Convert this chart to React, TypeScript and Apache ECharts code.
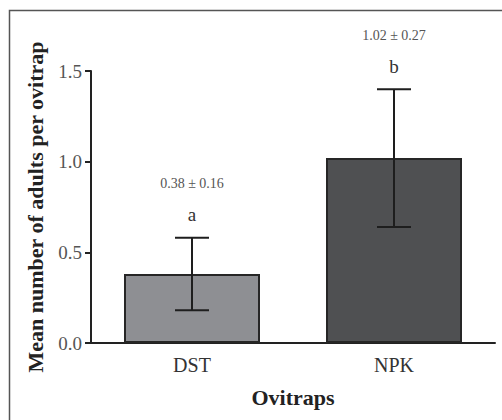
import React, { useEffect, useRef } from "react";
import * as echarts from "echarts";

const categories = ["DST", "NPK"];
const means = [0.38, 1.02];
const errLow = [0.18, 0.64];
const errHigh = [0.58, 1.4];
const meanLabels = ["0.38 ± 0.16", "1.02 ± 0.27"];
const letters = ["a", "b"];
const barColors = ["#8e8f93", "#4f5052"];
const yTicks = [0, 0.5, 1.0, 1.5];

const SERIF = "'Liberation Serif', 'DejaVu Serif', serif";

export default function App() {
  const ref = useRef<HTMLDivElement>(null);
  useEffect(() => {
    document.body.style.margin = "0";
    const chart = echarts.init(ref.current!, null, { renderer: "svg" });
    const errData = categories.map((_, i) => [i, errLow[i], errHigh[i]]);
    chart.setOption({
      animation: false,
      backgroundColor: "#ffffff",
      graphic: [
        {
          type: "rect",
          shape: { x: 9.5, y: 10.5, width: 700, height: 600 },
          style: { fill: "none", stroke: "#555", lineWidth: 1.5 },
          silent: true,
        },
      ],
      grid: { left: 91, top: 71, right: 7, bottom: 77 },
      xAxis: {
        type: "category",
        data: categories,
        name: "Ovitraps",
        nameLocation: "middle",
        nameGap: 43,
        nameTextStyle: { fontFamily: SERIF, fontSize: 22, fontWeight: "bold", color: "#222" },
        axisLine: { lineStyle: { color: "#222", width: 2 } },
        axisTick: { alignWithLabel: true, length: 6, lineStyle: { color: "#222", width: 2 } },
        axisLabel: { fontFamily: SERIF, fontSize: 20, color: "#333", margin: 12 },
      },
      yAxis: {
        type: "value",
        min: 0,
        max: 1.5,
        interval: 0.5,
        name: "Mean number of adults per ovitrap",
        nameLocation: "middle",
        nameGap: 45,
        nameTextStyle: { fontFamily: SERIF, fontSize: 22, fontWeight: "bold", color: "#222" },
        axisLine: { show: true, lineStyle: { color: "#222", width: 2 } },
        axisTick: { show: true, length: 6, lineStyle: { color: "#222", width: 2 } },
        splitLine: { show: false },
        axisLabel: {
          fontFamily: SERIF,
          fontSize: 19,
          color: "#555",
          margin: 9,
          formatter: (v: number) => (yTicks.includes(v) ? v.toFixed(1) : ""),
        },
      },
      series: [
        {
          type: "bar",
          data: means.map((v, i) => ({ value: v, itemStyle: { color: barColors[i] } })),
          barWidth: 136,
          itemStyle: { borderColor: "#262626", borderWidth: 2 },
        },
        {
          type: "custom",
          data: errData,
          z: 10,
          renderItem: (params: any, api: any) => {
            const i = api.value(0);
            const lo = api.coord([i, api.value(1)]);
            const hi = api.coord([i, api.value(2)]);
            const x = lo[0];
            const half = 17;
            const st = { stroke: "#1e1e1e", lineWidth: 2 };
            return {
              type: "group",
              children: [
                { type: "line", shape: { x1: x, y1: lo[1], x2: x, y2: hi[1] }, style: st },
                { type: "line", shape: { x1: x - half, y1: lo[1], x2: x + half, y2: lo[1] }, style: st },
                { type: "line", shape: { x1: x - half, y1: hi[1], x2: x + half, y2: hi[1] }, style: st },
                {
                  type: "text",
                  x: x,
                  y: hi[1] - 23,
                  style: {
                    text: letters[params.dataIndex],
                    fontFamily: SERIF,
                    fontSize: 19,
                    fill: "#333",
                    align: "center",
                    verticalAlign: "middle",
                  },
                },
                {
                  type: "text",
                  x: x,
                  y: hi[1] - 54,
                  style: {
                    text: meanLabels[params.dataIndex],
                    fontFamily: SERIF,
                    fontSize: 14,
                    fill: "#555",
                    align: "center",
                    verticalAlign: "middle",
                  },
                },
              ],
            };
          },
        },
      ],
    });
    return () => chart.dispose();
  }, []);
  return <div ref={ref} style={{ width: 502, height: 420 }} />;
}
